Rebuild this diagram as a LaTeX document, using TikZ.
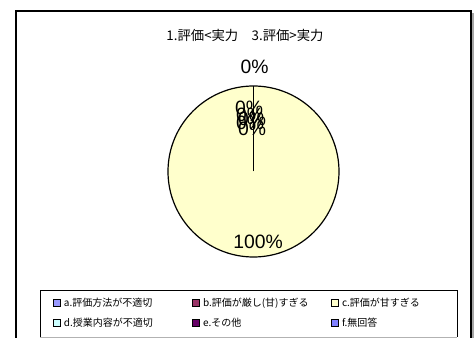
\documentclass[tikz,border=0pt]{standalone}
\usepackage{fontspec}
\setmainfont{Liberation Sans}
\newfontfamily\jpfont{Noto Sans CJK JP}
\usepackage{tikz}
\usetikzlibrary{positioning}
\usepackage{xcolor}

\definecolor{pieyellow}{HTML}{FFFFCC}
\definecolor{keya}{HTML}{9999FF}
\definecolor{keyb}{HTML}{993366}
\definecolor{keyc}{HTML}{FFFFCC}
\definecolor{keyd}{HTML}{CCFFFF}
\definecolor{keye}{HTML}{660066}
\definecolor{keyf}{HTML}{8080FF}

\tikzset{
  pct/.style={font=\fontsize{14.5}{14.5}\selectfont, inner sep=0pt},
  keybox/.style={draw=black, line width=1.1pt, minimum size=5pt, inner sep=0pt},
  keytext/.style={font=\jpfont\fontsize{7.5}{7.5}\selectfont, inner sep=0pt, anchor=west}
}

\begin{document}
\begin{tikzpicture}[x=0.75pt, y=-0.75pt]
                \useasboundingbox (0,0) rectangle (476,338);

                % Chart frame with shadow
                \fill[gray!70] (471,13) rectangle (474,338);
                \draw[line width=0.9pt] (16,340) -- (16,11) -- (471,11) -- (471,340);

                % Title
                \node[font=\jpfont\fontsize{10}{10}\selectfont] (title) at (245,35) {1.評価<実力　3.評価>実力};

                % Pie
                \coordinate (center) at (253.5,171.5);
                \coordinate (top) at (253.5,86);
                \fill[pieyellow] (center) circle (85.5);
                \draw[line width=0.9pt] (center) circle (85.5);
                \draw[line width=1pt] (center) -- (top);

                % Percent labels
                \node[pct] (ptop) at (254.5,67) {0\%};
                \node[pct] (pa) at (249,108) {0\%};
                \node[pct] (pb) at (250,115) {0\%};
                \node[pct] (pd) at (252,119) {0\%};
                \node[pct] (pe) at (250,123) {0\%};
                \node[pct] (pf) at (252,129) {0\%};
                \node[pct] (pc) at (258,242) {100\%};

                % Legend
                \draw[line width=0.7pt] (40,337) -- (40,290) -- (457,290) -- (457,337);
                \draw[gray!60, line width=0.7pt] (40,337) -- (457,337);

                \node[keybox, fill=keya] (ka) at (57,303) {};
                \node[keytext, right=2pt of ka] (ta) {a.評価方法が不適切};
                \node[keybox, fill=keyb] (kb) at (196,303) {};
                \node[keytext, right=2pt of kb] (tb) {b.評価が厳し(甘)すぎる};
                \node[keybox, fill=keyc] (kc) at (335,303) {};
                \node[keytext, right=2pt of kc] (tc) {c.評価が甘すぎる};

                \node[keybox, fill=keyd] (kd) at (57,323) {};
                \node[keytext, right=2pt of kd] (td) {d.授業内容が不適切};
                \node[keybox, fill=keye] (ke) at (196,323) {};
                \node[keytext, right=2pt of ke] (te) {e.その他};
                \node[keybox, fill=keyf] (kf) at (335,323) {};
                \node[keytext, right=2pt of kf] (tf) {f.無回答};
            \end{tikzpicture}
\end{document}
